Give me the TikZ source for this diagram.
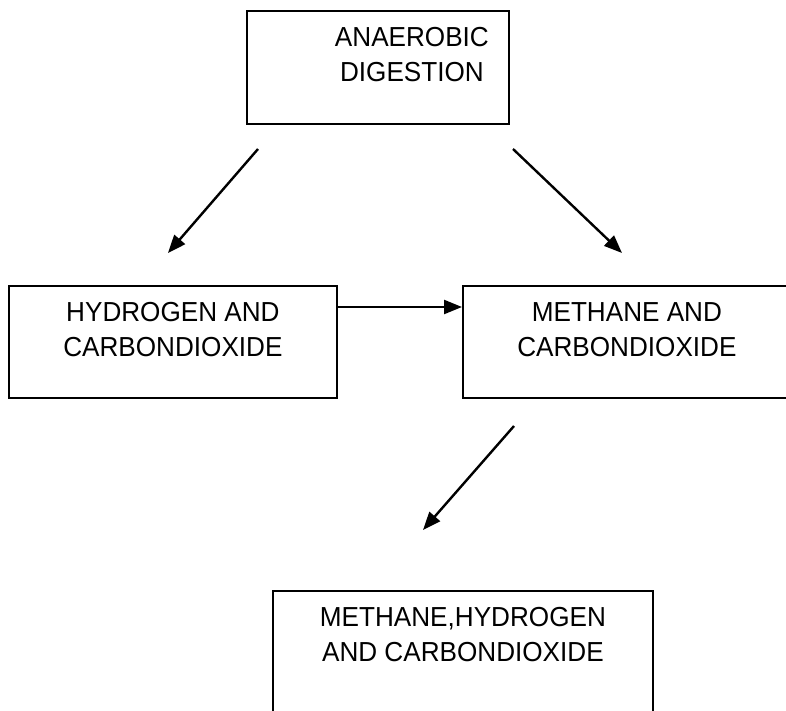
\documentclass[tikz,border=0pt]{standalone}
\usepackage{fontspec}
\setmainfont{Liberation Sans}[FakeStretch=0.95]
\usetikzlibrary{arrows.meta}
\begin{document}
\begin{tikzpicture}[x=1pt,y=-1pt,
  box/.style={draw=black,line width=1.8pt,anchor=north west,inner sep=0pt},
  lbl/.style={align=center,font=\fontsize{27.5}{35}\selectfont,anchor=north,inner sep=0pt},
  arr/.style={line width=2.4pt,-{Triangle[length=18pt,width=14pt]}}]
\useasboundingbox (0,0) rectangle (786,711);
\clip (0,0) rectangle (786,711);
\node[box,minimum width=262pt,minimum height=113pt] (ad) at (246,10) {};
\node[box,minimum width=328pt,minimum height=112pt] (hc) at (8,285) {};
\node[box,minimum width=328pt,minimum height=112pt] (mc) at (462,285) {};
\node[box,minimum width=380pt,minimum height=140pt] (mhc) at (272,590) {};
\node[lbl] (tad) at ([xshift=34pt,yshift=-17pt]ad.north) {ANAEROBIC\\DIGESTION};
\node[lbl] (thc) at ([yshift=-17pt]hc.north) {HYDROGEN AND\\CARBONDIOXIDE};
\node[lbl] (tmc) at ([yshift=-17pt]mc.north) {METHANE AND\\CARBONDIOXIDE};
\node[lbl] (tmhc) at ([yshift=-17pt]mhc.north) {METHANE,HYDROGEN\\AND CARBONDIOXIDE};
\coordinate (a1s) at (258,149);
\coordinate (a1e) at (168,253);
\coordinate (a2s) at (513,149);
\coordinate (a2e) at (622,253);
\coordinate (a4s) at (514,426);
\coordinate (a4e) at (423,530);
\draw[arr] (a1s) -- (a1e);
\draw[arr] (a2s) -- (a2e);
\draw[arr] (hc.east |- 0,307) -- (mc.west |- 0,307);
\draw[arr] (a4s) -- (a4e);
\end{tikzpicture}
\end{document}
